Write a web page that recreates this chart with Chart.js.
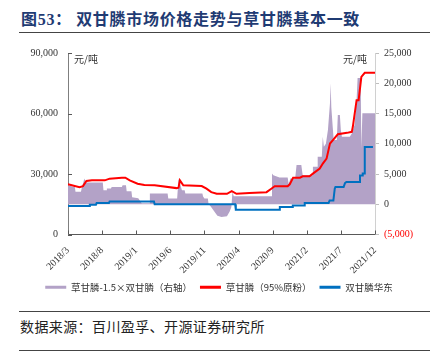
<!DOCTYPE html>
<html>
<head>
<meta charset="utf-8">
<script src="https://cdn.jsdelivr.net/npm/chart.js@4.4.1/dist/chart.umd.min.js"></script>
<style>
  body { margin: 0; background: #fff; width: 438px; height: 353px; position: relative; overflow: hidden; font-family: "Noto Sans CJK SC", sans-serif; }
  #title { position: absolute; left: 21px; top: 6px; font-size: 16px; font-weight: bold; color: #1f3b73; letter-spacing: 0.7px; white-space: nowrap; }
  #title .num { font-family: "Liberation Serif", serif; }
  .rule { position: absolute; left: 19px; width: 411px; border-top: 1px solid #444; }
  #box { position: absolute; left: 0; top: 36px; width: 438px; height: 266px; }
  #src { position: absolute; left: 20px; top: 316px; font-size: 14px; color: #222; letter-spacing: 0.4px; white-space: nowrap; }
</style>
</head>
<body>
<div id="title">图<span class="num">53</span>：&nbsp;双甘膦市场价格走势与草甘膦基本一致</div>
<div class="rule" style="top:32px"></div>
<div id="box"><canvas id="myChart"></canvas></div>
<div class="rule" style="top:311px"></div>
<div id="src">数据来源：百川盈孚、开源证券研究所</div>
<div class="rule" style="top:350px"></div>
<script>
// eje x: meses contados desde 2018/3
const xTickMonths = [0, 5, 10, 15, 20, 25, 30, 35, 40, 45];
const xLabels = ['2018/3', '2018/8', '2019/1', '2019/6', '2019/11', '2020/4', '2020/9', '2021/2', '2021/7', '2021/12'];
const leftTicks = [0, 30000, 60000, 90000];
const rightTicks = [-5000, 0, 5000, 10000, 15000, 20000, 25000];
const unitText = '元/吨';
const names = ['草甘膦-1.5×双甘膦（右轴）', '草甘膦（95%原粉）', '双甘膦华东'];

// [mes, valor]
const spread = [[0,3150],[0.7,2900],[1.0,2900],[1.1,2050],[1.9,2050],[2.0,2600],[2.4,4250],[2.6,3600],[5.1,3600],[5.2,2300],
  [5.6,2300],[5.7,2600],[6.3,2600],[6.4,2870],[7.9,2870],[8.0,3150],[8.5,3150],[8.6,2150],[9.3,2150],[9.4,1150],
  [10.3,1000],[10.5,660],[10.8,150],[11.9,150],[12.0,1770],[14.6,1770],[14.7,950],[16.0,950],[16.2,4260],[16.7,2300],
  [17.1,2300],[17.2,1770],[19.7,1770],[19.8,1300],[20.0,950],[20.5,950],[20.6,100],[21.0,-500],[21.5,-1300],[21.9,-1900],
  [22.5,-2100],[23.3,-2000],[23.7,-1200],[23.95,-450],[24.1,2000],[24.3,1330],[29.8,1330],[29.9,5090],[30.1,4800],[31.0,4420],
  [32.2,4420],[32.35,3300],[32.6,4260],[33.3,4260],[33.5,6470],[34.2,6470],[34.4,4800],[35.8,4800],[35.9,6200],[36.5,6200],
  [36.6,7850],[37.2,7850],[37.35,11160],[37.5,9500],[37.8,10000],[38.1,12270],[38.4,16700],[38.5,20000],[38.6,16000],[38.8,12800],
  [38.95,10600],[39.4,10600],[39.55,14760],[39.85,14760],[39.99,12270],[40.15,11160],[41.3,11160],[41.6,11700],[42.0,13100],[42.3,17250],
  [42.45,20850],[42.9,20850],[43.0,9240],[43.15,15040],[45.0,15040]];

const glyphosate = [[0,24900],[0.7,24300],[1.7,23500],[2.2,24000],[2.7,26500],[3.5,26850],[5.4,26850],[6.1,27700],[7.9,28200],[8.4,28200],
  [9.05,26850],[10.2,25200],[11.2,24500],[12.7,24400],[15.9,23000],[16.2,23200],[16.4,26850],[16.9,24400],[19.6,24000],[20.3,22700],
  [21.0,21000],[21.8,20200],[23.3,20200],[24.0,21500],[24.7,20200],[26.6,20550],[29.1,21000],[29.8,22700],[30.3,23900],[32.2,23900],
  [32.5,24900],[33.0,28200],[34.0,28200],[34.4,28850],[35.4,28850],[35.9,30200],[36.9,32700],[37.35,35200],[37.9,37600],[38.4,45100],
  [38.8,46700],[39.55,49700],[40.9,50400],[41.6,50900],[41.75,53400],[42.3,66600],[42.6,66600],[43.0,78200],[43.5,80200],[45.0,80200]];

const iminodi = [[0,14100],[3.1,14100],[3.2,14760],[4.1,14760],[4.2,15560],[6.0,15560],[6.1,16400],[12.6,16400],[12.7,15000],[24.5,15000],
  [24.6,12300],[31.0,12300],[31.05,13600],[32.9,13600],[32.95,14400],[34.6,14400],[34.7,15600],[38.2,15600],[38.35,16900],[38.9,16900],
  [39.1,22700],[39.2,23500],[40.4,23500],[40.6,25500],[40.8,26000],[42.7,26000],[42.8,29300],[43.1,29300],[43.2,30200],[43.4,30200],
  [43.5,43400],[44.7,43400]];

const toXY = arr => arr.map(([x, y]) => ({ x, y }));
const serif = '"Liberation Serif", "Times New Roman", serif';
const fmt = v => Math.abs(v).toLocaleString('en-US');

// marcas de eje hacia dentro, etiquetas del eje izquierdo y unidades
const extras = {
  id: 'extras',
  afterDraw(chart) {
    const { ctx, chartArea, scales } = chart;
    ctx.save();
    ctx.strokeStyle = '#595959';
    ctx.lineWidth = 1;
    ctx.beginPath();
    scales.x.ticks.forEach(t => {
      const px = Math.round(scales.x.getPixelForValue(t.value)) + 0.5;
      ctx.moveTo(px, chartArea.bottom);
      ctx.lineTo(px, chartArea.bottom - 4);
    });
    scales.y.ticks.forEach(t => {
      const py = Math.round(scales.y.getPixelForValue(t.value)) + 0.5;
      ctx.moveTo(chartArea.left, py);
      ctx.lineTo(chartArea.left + 4, py);
    });
    ctx.stroke();
    ctx.fillStyle = '#333';
    ctx.font = '10px ' + serif;
    ctx.textAlign = 'right';
    ctx.textBaseline = 'middle';
    leftTicks.forEach(v => {
      ctx.fillText(v === 0 ? '0' : fmt(v), chartArea.left - 10, scales.y.getPixelForValue(v));
    });
    ctx.font = '10px "Noto Sans CJK SC"';
    ctx.textBaseline = 'top';
    ctx.textAlign = 'left';
    ctx.fillText(unitText, chartArea.left + 6, chartArea.top + 1);
    ctx.textAlign = 'right';
    ctx.fillText(unitText, chartArea.right - 8, chartArea.top + 1);
    ctx.restore();
  }
};

const ctx = document.getElementById('myChart').getContext('2d');
const chart = new Chart(ctx, {
  type: 'line',
  data: {
    datasets: [{
      label: names[0],
      data: toXY(spread),
      yAxisID: 'y1',
      fill: 'origin',
      backgroundColor: '#b3a2c7',
      borderColor: '#b3a2c7',
      borderWidth: 0,
      pointRadius: 0,
      order: 2
    }, {
      label: names[1],
      data: toXY(glyphosate),
      yAxisID: 'y',
      borderColor: '#ff0000',
      backgroundColor: '#ff0000',
      borderWidth: 2,
      pointRadius: 0,
      order: 1
    }, {
      label: names[2],
      data: toXY(iminodi),
      yAxisID: 'y',
      borderColor: '#0070c0',
      backgroundColor: '#0070c0',
      borderWidth: 2,
      pointRadius: 0,
      order: 0
    }]
  },
  options: {
    responsive: true,
    maintainAspectRatio: false,
    animation: false,
    layout: { padding: { top: 17, left: 0, right: 0, bottom: 0 } },
    plugins: {
      tooltip: { enabled: false },
      legend: {
        position: 'bottom',
        labels: {
          boxWidth: 21,
          boxHeight: 3,
          padding: 8,
          color: '#333',
          font: { size: 9.5, family: '"Noto Sans CJK SC"' },
          sort: (a, b) => a.datasetIndex - b.datasetIndex,
          generateLabels: chart => chart.data.datasets.map((d, i) => ({
            text: d.label, fillStyle: d.backgroundColor, strokeStyle: d.backgroundColor,
            lineWidth: 0, hidden: false, datasetIndex: i, fontColor: '#333'
          }))
        }
      }
    },
    scales: {
      x: {
        type: 'linear',
        min: 0,
        max: 45,
        afterBuildTicks: s => { s.ticks = xTickMonths.map(v => ({ value: v })); },
        afterFit: s => { s.height = 40; },
        grid: { display: false },
        border: { color: '#595959', width: 1 },
        ticks: {
          autoSkip: false,
          minRotation: 45, maxRotation: 45, padding: 2, color: '#333',
          font: { size: 10, family: serif },
          callback: v => xLabels[xTickMonths.indexOf(v)]
        }
      },
      y: {
        position: 'left',
        min: 0,
        max: 90000,
        afterBuildTicks: s => { s.ticks = leftTicks.map(v => ({ value: v })); },
        afterFit: s => { s.width = 68; },
        grid: { display: false },
        border: { color: '#7f7f7f', width: 1 },
        ticks: { display: false }
      },
      y1: {
        position: 'right',
        min: -5000,
        max: 25000,
        afterBuildTicks: s => { s.ticks = rightTicks.map(v => ({ value: v })); },
        afterFit: s => { s.width = 63; },
        grid: { display: true, drawOnChartArea: false, tickLength: 4, color: '#bfbfbf' },
        border: { color: '#d0d0d0', width: 1 },
        ticks: {
          autoSkip: false,
          padding: 5, font: { size: 10, family: serif },
          color: c => (c.tick && c.tick.value < 0 ? '#ff0000' : '#333'),
          callback: v => (v < 0 ? '(' + fmt(v) + ')' : fmt(v))
        }
      }
    }
  },
  plugins: [extras]
});
</script>
</body>
</html>
